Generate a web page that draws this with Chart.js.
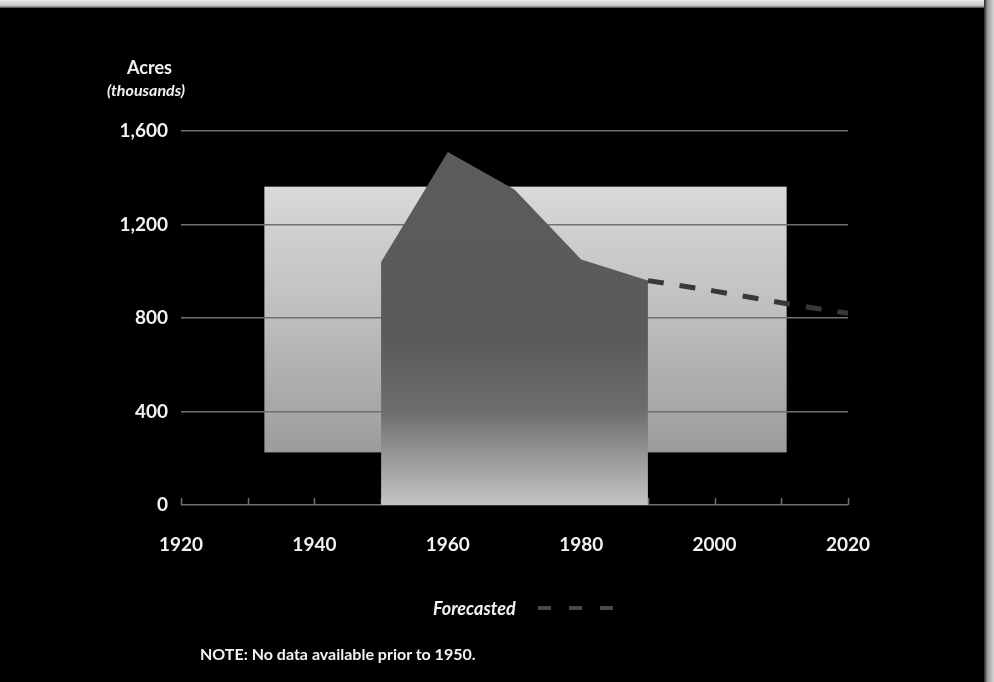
<!DOCTYPE html>
<html>
<head>
<meta charset="utf-8">
<script src="https://cdn.jsdelivr.net/npm/chart.js@4.4.1/dist/chart.umd.min.js"></script>
<style>
  html, body { margin: 0; padding: 0; background: #000; }
  body { width: 994px; height: 682px; position: relative; overflow: hidden; font-family: "Lato", "DejaVu Sans", sans-serif; color: #f2f2f2; }
  #wrap { position: absolute; left: 0; top: 0; width: 994px; height: 682px; }
  .edge-top { position: absolute; left: 0; top: 0; width: 994px; height: 8px; background: linear-gradient(#ececec, #c4c4c4 70%, #444); }
  .edge-right { position: absolute; right: 0; top: 0; width: 10px; height: 682px; background: linear-gradient(90deg, #222, #9a9a9a 35%, #d6d6d6); }
  .ytitle { position: absolute; left: 127px; top: 57px; font-weight: 700; font-size: 18px; line-height: 20px; }
  .ysub { position: absolute; left: 107px; top: 81px; font-style: italic; font-weight: 700; font-size: 16px; line-height: 18px; }
  .legend { position: absolute; left: 433px; top: 598px; font-style: italic; font-weight: 700; font-size: 18px; line-height: 20px; display: flex; align-items: center; }
  .legend .dash { display: inline-block; width: 13px; height: 4px; background: #4a4a4a; margin-left: 18px; }
  .legend .dash:first-of-type { margin-left: 22px; }
  .note { position: absolute; left: 200px; top: 645px; font-weight: 700; font-size: 16px; line-height: 18px; }
</style>
</head>
<body>
<div id="wrap"><canvas id="c" width="994" height="682"></canvas></div>
<div class="edge-top"></div>
<div class="edge-right"></div>
<div class="ytitle">Acres</div>
<div class="ysub">(thousands)</div>
<div class="legend">Forecasted<span class="dash"></span><span class="dash"></span><span class="dash"></span></div>
<div class="note">NOTE: No data available prior to 1950.</div>
<script>
// Recorded acreage, by decade (thousands of acres)
const years = [1950, 1960, 1970, 1980, 1990];
const acres = [1040, 1510, 1350, 1050, 960];

// Forecast continuing from the last recorded decade
const forecastYears = [1990, 2000, 2010, 2020];
const forecastAcres = [960, 915, 865, 820];

// Axis tick values
const yTicks = [0, 400, 800, 1200, 1600];
const xLabelYears = [1920, 1940, 1960, 1980, 2000, 2020];

// Shaded backdrop panel behind the plot, in axis units
const panel = { fromYear: 1932.5, toYear: 2010.8, low: 225, high: 1362 };

const toPoints = (xs, ys) => xs.map((x, i) => ({ x: x, y: ys[i] }));

const backdropPlugin = {
  id: 'backdrop',
  beforeDraw(chart) {
    const { ctx, scales: { x, y } } = chart;
    const l = x.getPixelForValue(panel.fromYear), r = x.getPixelForValue(panel.toYear);
    const t = y.getPixelForValue(panel.high), b = y.getPixelForValue(panel.low);
    const g = ctx.createLinearGradient(0, t, 0, b);
    g.addColorStop(0, '#d9d9d9');
    g.addColorStop(0.5, '#bdbdbd');
    g.addColorStop(1, '#9c9c9c');
    ctx.save();
    ctx.fillStyle = g;
    ctx.fillRect(l, t, r - l, b - t);
    ctx.restore();
  },
  beforeDatasetsDraw(chart) {
    // small upward tick marks along the baseline, one per decade
    const { ctx, scales: { x, y } } = chart;
    const base = y.getPixelForValue(0);
    ctx.save();
    ctx.strokeStyle = '#6e6e6e';
    ctx.lineWidth = 1.5;
    x.ticks.forEach(t => {
      const px = Math.round(x.getPixelForValue(t.value)) + 0.5;
      ctx.beginPath();
      ctx.moveTo(px, base);
      ctx.lineTo(px, base - 7);
      ctx.stroke();
    });
    ctx.restore();
  }
};

function areaFill(context) {
  const chart = context.chart;
  if (!chart.chartArea) return '#5a5a5a';
  const y = chart.scales.y;
  const top = y.getPixelForValue(1600), bottom = y.getPixelForValue(0);
  const g = chart.ctx.createLinearGradient(0, top, 0, bottom);
  g.addColorStop(0, '#5c5c5c');
  g.addColorStop(0.55, '#5a5a5a');
  g.addColorStop(0.75, '#6e6e6e');
  g.addColorStop(1, '#c4c4c4');
  return g;
}

new Chart(document.getElementById('c'), {
  type: 'line',
  data: {
    datasets: [
      {
        label: 'Acres',
        data: toPoints(years, acres),
        fill: 'origin',
        backgroundColor: areaFill,
        borderWidth: 0,
        borderColor: 'rgba(0,0,0,0)',
        pointRadius: 0,
        tension: 0,
        order: 2
      },
      {
        label: 'Forecasted',
        data: toPoints(forecastYears, forecastAcres),
        fill: false,
        borderColor: '#383838',
        borderWidth: 5,
        borderDash: [16, 16],
        borderCapStyle: 'butt',
        pointRadius: 0,
        tension: 0,
        order: 1
      }
    ]
  },
  options: {
    responsive: false,
    animation: false,
    events: [],
    layout: { padding: { left: 0, top: 131, right: 146, bottom: 0 } },
    plugins: { legend: { display: false }, tooltip: { enabled: false } },
    scales: {
      x: {
        type: 'linear',
        min: 1920,
        max: 2020,
        afterFit(s) { s.height = 177; },
        afterBuildTicks(s) {
          const t = [];
          for (let v = 1920; v <= 2020; v += 10) t.push({ value: v });
          s.ticks = t;
        },
        grid: { display: false, drawTicks: false },
        border: { display: false },
        ticks: {
          autoSkip: false,
          maxRotation: 0,
          padding: 28,
          color: '#f2f2f2',
          font: { family: 'Lato', weight: 'bold', size: 19 },
          callback: v => xLabelYears.includes(v) ? String(v) : ''
        }
      },
      y: {
        min: 0,
        max: 1600,
        afterFit(s) { s.width = 181; },
        afterBuildTicks(s) { s.ticks = yTicks.map(v => ({ value: v })); },
        grid: { color: '#707070', lineWidth: 1.5, drawTicks: false },
        border: { display: false },
        ticks: {
          padding: 13,
          color: '#f2f2f2',
          font: { family: 'Lato', weight: 'bold', size: 19 },
          callback: v => v.toLocaleString('en-US')
        }
      }
    }
  },
  plugins: [backdropPlugin]
});
</script>
</body>
</html>
